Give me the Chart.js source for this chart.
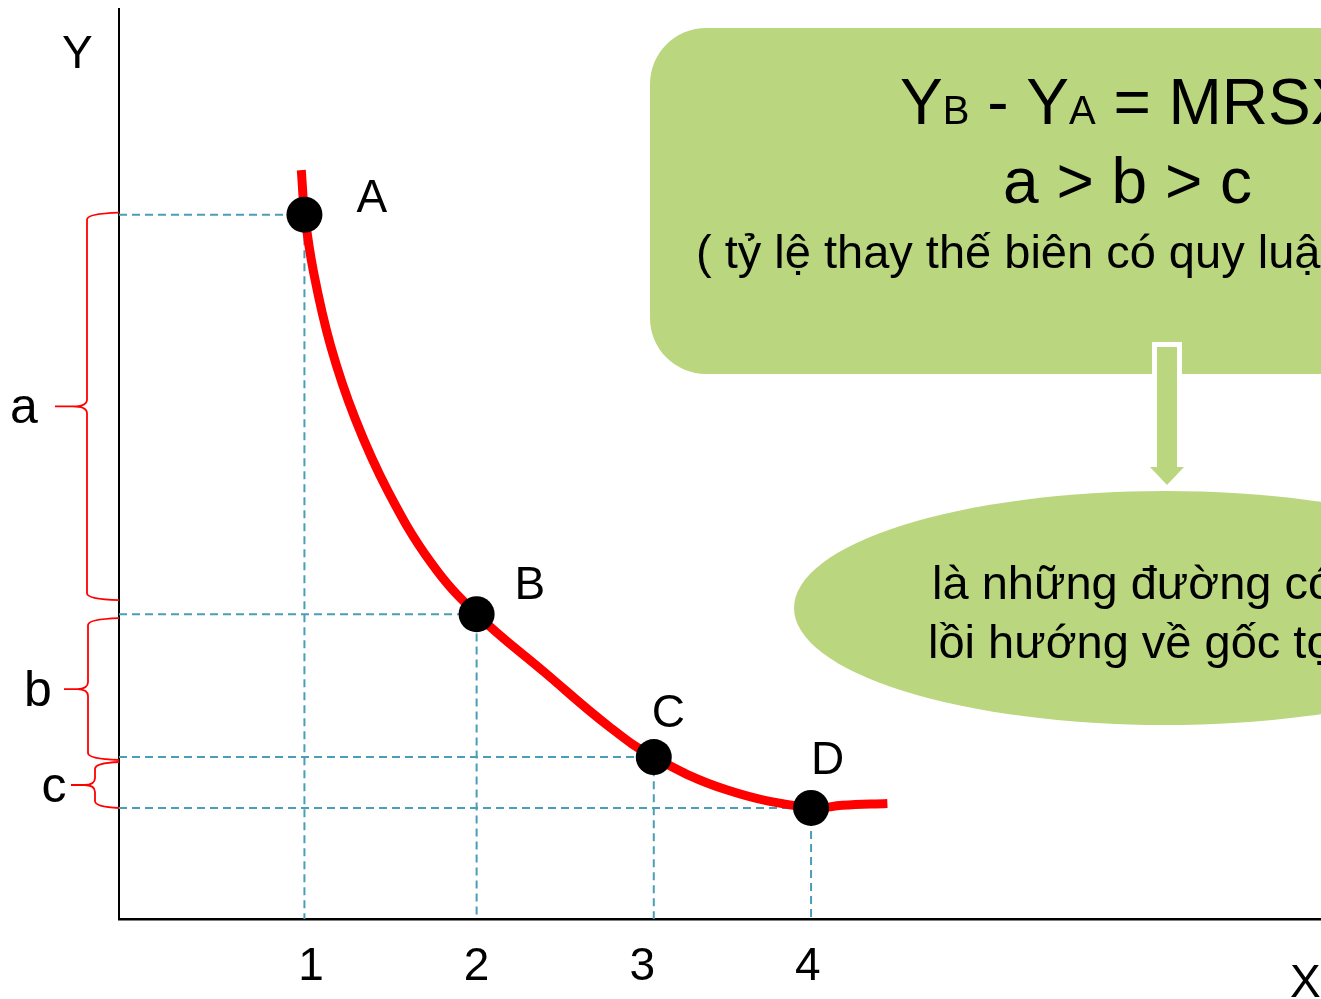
<!DOCTYPE html>
<html>
<head>
<meta charset="utf-8">
<title>Đường bàng quan</title>
<script src="https://cdn.jsdelivr.net/npm/chart.js@4.4.1/dist/chart.umd.min.js"></script>
<style>
  html, body { margin: 0; padding: 0; background: #fff; overflow: hidden; }
</style>
</head>
<body>
<canvas id="chart" width="1321" height="999"></canvas>
<script>
// indifference curve, sampled along its length
const curveX = [0.941, 0.962, 1.016, 1.118, 1.266, 1.465, 1.727, 2.0, 2.411, 2.803, 3.069, 3.509, 4.022, 4.209, 4.481];
const curveY = [8.23, 7.74, 7.10, 6.30, 5.50, 4.70, 3.91, 3.35, 2.71, 2.11, 1.78, 1.42, 1.22, 1.25, 1.27];

// marked bundles on the curve
const pointNames = ['A', 'B', 'C', 'D'];
const pointX = [0.96, 2.0, 3.07, 4.02];
const pointY = [7.74, 3.35, 1.78, 1.22];

const xTicks = [1, 2, 3, 4];
const braceNames = ['a', 'b', 'c'];

const X_MIN = -0.16, X_MAX = 7.1;
const FONT = "'Liberation Sans', Arial, sans-serif";
const GREEN = '#BAD77F';
const GUIDE = '#4A9FB6';

// label offsets (px) from each marker centre
const labelOffset = [[52, -3], [38, -15], [-2, -30], [0, -34]];
// brace layout: vertical x, tip x, end insets, label centre x
const braceStyle = [
    { xv: 87, tip: 55, top: -2, bot: -14, lx: 24 },
    { xv: 88, tip: 64, top: 4, bot: 3, lx: 38 },
    { xv: 95, tip: 71, top: 5, bot: 0, lx: 54 }
];

const guideSets = pointX.map((x, i) => ({
    data: [{ x: X_MIN, y: pointY[i] }, { x: x, y: pointY[i] }, { x: x, y: 0 }],
    showLine: true,
    borderColor: GUIDE,
    borderWidth: 2,
    borderDash: [8, 5],
    pointRadius: 0,
    order: 3
}));

function drawBrace(ctx, xEnd, xv, xTip, yTop, yBot) {
    const yMid = (yTop + yBot) / 2;
    const r = Math.min(7, (yBot - yTop) / 5);
    const xk = xv - (xv - xTip) * 0.45;
    ctx.beginPath();
    ctx.moveTo(xEnd, yTop);
    ctx.quadraticCurveTo(xv, yTop + 1, xv, yTop + r);
    ctx.lineTo(xv, yMid - r);
    ctx.quadraticCurveTo(xv, yMid, xk, yMid);
    ctx.lineTo(xTip, yMid);
    ctx.moveTo(xk, yMid);
    ctx.quadraticCurveTo(xv, yMid, xv, yMid + r);
    ctx.lineTo(xv, yBot - r);
    ctx.quadraticCurveTo(xv, yBot - 1, xEnd, yBot);
    ctx.stroke();
}

function drawRuns(ctx, x, y, runs) {
    runs.forEach(([text, size]) => {
        ctx.font = size + 'px ' + FONT;
        ctx.fillText(text, x, y);
        x += ctx.measureText(text).width;
    });
}

const extras = {
    id: 'extras',
    afterDraw(chart) {
        const ctx = chart.ctx;
        const ys = chart.scales.y;
        const left = chart.chartArea.left;
        ctx.save();

        // axis names
        ctx.fillStyle = '#000';
        ctx.textBaseline = 'alphabetic';
        ctx.textAlign = 'left';
        ctx.font = '46px ' + FONT;
        ctx.fillText('Y', 62, 68);
        ctx.fillText('X', 1290, 997);

        // point labels
        const meta = chart.getDatasetMeta(0);
        meta.data.forEach((pt, i) => {
            ctx.fillText(pointNames[i], pt.x + labelOffset[i][0], pt.y + labelOffset[i][1]);
        });

        // braces for the drops in Y between neighbouring points
        ctx.strokeStyle = '#FF0000';
        ctx.lineWidth = 1.8;
        braceNames.forEach((name, i) => {
            const s = braceStyle[i];
            const yTop = ys.getPixelForValue(pointY[i]) + s.top;
            const yBot = ys.getPixelForValue(pointY[i + 1]) + s.bot;
            drawBrace(ctx, left, s.xv, s.tip, yTop, yBot);
            ctx.font = '50px ' + FONT;
            ctx.textAlign = 'center';
            ctx.fillText(name, s.lx, (yTop + yBot) / 2 + 17);
        });
        ctx.textAlign = 'left';

        // note box
        ctx.fillStyle = GREEN;
        ctx.beginPath();
        ctx.roundRect(650, 28, 1000, 346, 56);
        ctx.fill();

        // arrow down to the ellipse
        ctx.fillStyle = '#fff';
        ctx.fillRect(1152, 342, 30, 126);
        ctx.fillStyle = GREEN;
        ctx.beginPath();
        ctx.moveTo(1157, 347);
        ctx.lineTo(1177, 347);
        ctx.lineTo(1177, 467);
        ctx.lineTo(1184, 467);
        ctx.lineTo(1167, 485);
        ctx.lineTo(1150, 467);
        ctx.lineTo(1157, 467);
        ctx.closePath();
        ctx.fill();

        ctx.beginPath();
        ctx.ellipse(1165, 608, 371, 117, 0, 0, Math.PI * 2);
        ctx.fill();

        ctx.fillStyle = '#000';
        drawRuns(ctx, 900, 124, [['Y', 64], ['B', 40], [' - ', 64], ['Y', 64], ['A', 40], [' = MRSXY', 64]]);
        ctx.font = '64px ' + FONT;
        ctx.fillText('a > b > c', 1003, 203);
        ctx.font = '47px ' + FONT;
        ctx.fillText('( tỷ lệ thay thế biên có quy luật giảm dần )', 696, 268);

        ctx.font = '47px ' + FONT;
        ctx.fillText('là những đường có độ', 932, 599);
        ctx.fillText('lồi hướng về gốc tọa độ', 928, 658);

        ctx.restore();
    }
};

new Chart(document.getElementById('chart'), {
    type: 'scatter',
    data: {
        datasets: [
            {
                data: pointX.map((x, i) => ({ x: x, y: pointY[i] })),
                pointRadius: 18,
                pointBackgroundColor: '#000',
                pointBorderWidth: 0,
                order: 1
            },
            {
                data: curveX.map((x, i) => ({ x: x, y: curveY[i] })),
                showLine: true,
                borderColor: '#FF0000',
                borderWidth: 9,
                borderCapStyle: 'butt',
                tension: 0.4,
                pointRadius: 0,
                order: 2
            },
            ...guideSets
        ]
    },
    options: {
        responsive: false,
        animation: false,
        events: [],
        layout: { autoPadding: false, padding: { top: 9, right: 0, left: 0, bottom: 0 } },
        plugins: { legend: { display: false }, tooltip: { enabled: false } },
        scales: {
            x: {
                type: 'linear',
                min: X_MIN,
                max: X_MAX,
                afterBuildTicks: s => { s.ticks = xTicks.map(v => ({ value: v })); },
                afterFit: s => { s.height = 80; },
                grid: { display: false, drawTicks: false },
                border: { display: true, color: '#000', width: 2.5 },
                ticks: { color: '#000', font: { family: FONT, size: 46 }, padding: 21, maxRotation: 0 }
            },
            y: {
                type: 'linear',
                min: 0,
                max: 10,
                afterFit: s => { s.width = 119; },
                grid: { display: false, drawTicks: false },
                border: { display: true, color: '#000', width: 2 },
                ticks: { display: false }
            }
        }
    },
    plugins: [extras]
});
</script>
</body>
</html>
